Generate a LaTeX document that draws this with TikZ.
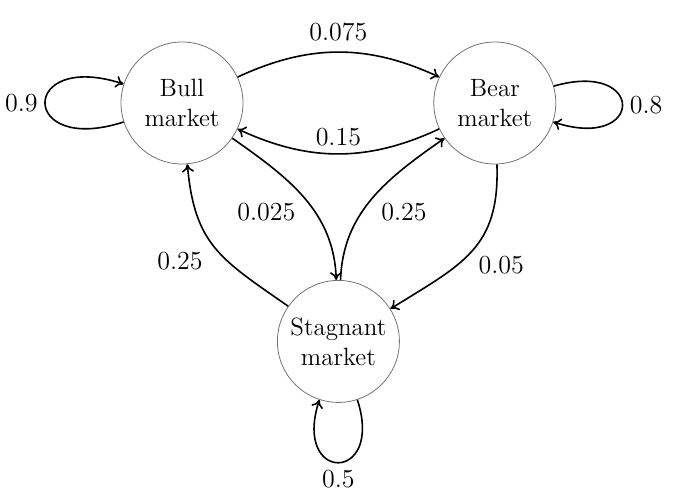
\documentclass[tikz,border=0pt]{standalone}
\usepackage{tikz}
\usetikzlibrary{arrows.meta,positioning}

\begin{document}
\begin{tikzpicture}[
  state/.style={draw=black!55, circle, thin, minimum size=61pt, inner sep=0pt, align=center,
    font=\fontsize{12.5}{15}\selectfont},
  arr/.style={-{To[length=4pt,width=6pt]}, line width=0.8pt},
  lbl/.style={font=\fontsize{13}{15}\selectfont},
]
\useasboundingbox (-91pt,-198.5pt) rectangle (247pt,51.5pt);
% three market states
\node[state] (bull) {Bull\\market};
\node[state, right=95pt of bull] (bear) {Bear\\market};
\path (bull) -- (bear) coordinate[midway] (mid);
\node[state, below=88.5pt of mid] (stag) {Stagnant\\market};

\draw[arr] (bull) to[bend left=25] node[lbl, above=2pt] {0.075} (bear);
\draw[arr] (bear) to[bend left=25] node[lbl, above] {0.15} (bull);
\draw[arr] (bull) to[out=-35, in=92] node[lbl, pos=0.6, left=6pt] {0.025} (stag);
\draw[arr] (stag) to[out=88, in=215] node[lbl, pos=0.4, right=6pt] {0.25} (bear);
\draw[arr] (stag) to[out=145, in=-85, looseness=1.2] node[lbl, pos=0.38, left=9pt] {0.25} (bull);
\draw[arr] (bear) to[out=-88, in=32, looseness=1.2] node[lbl, pos=0.62, right=7pt] {0.05} (stag);
% self loops
\draw[arr] (bull) to[out=198, in=162, distance=55pt] node[lbl, left] {0.9} (bull);
\draw[arr] (bear) to[out=16, in=-18, distance=48pt] node[lbl, right] {0.8} (bear);
\draw[arr] (stag) to[out=-72, in=-108, distance=44pt] node[lbl, below] {0.5} (stag);
\end{tikzpicture}
\end{document}
